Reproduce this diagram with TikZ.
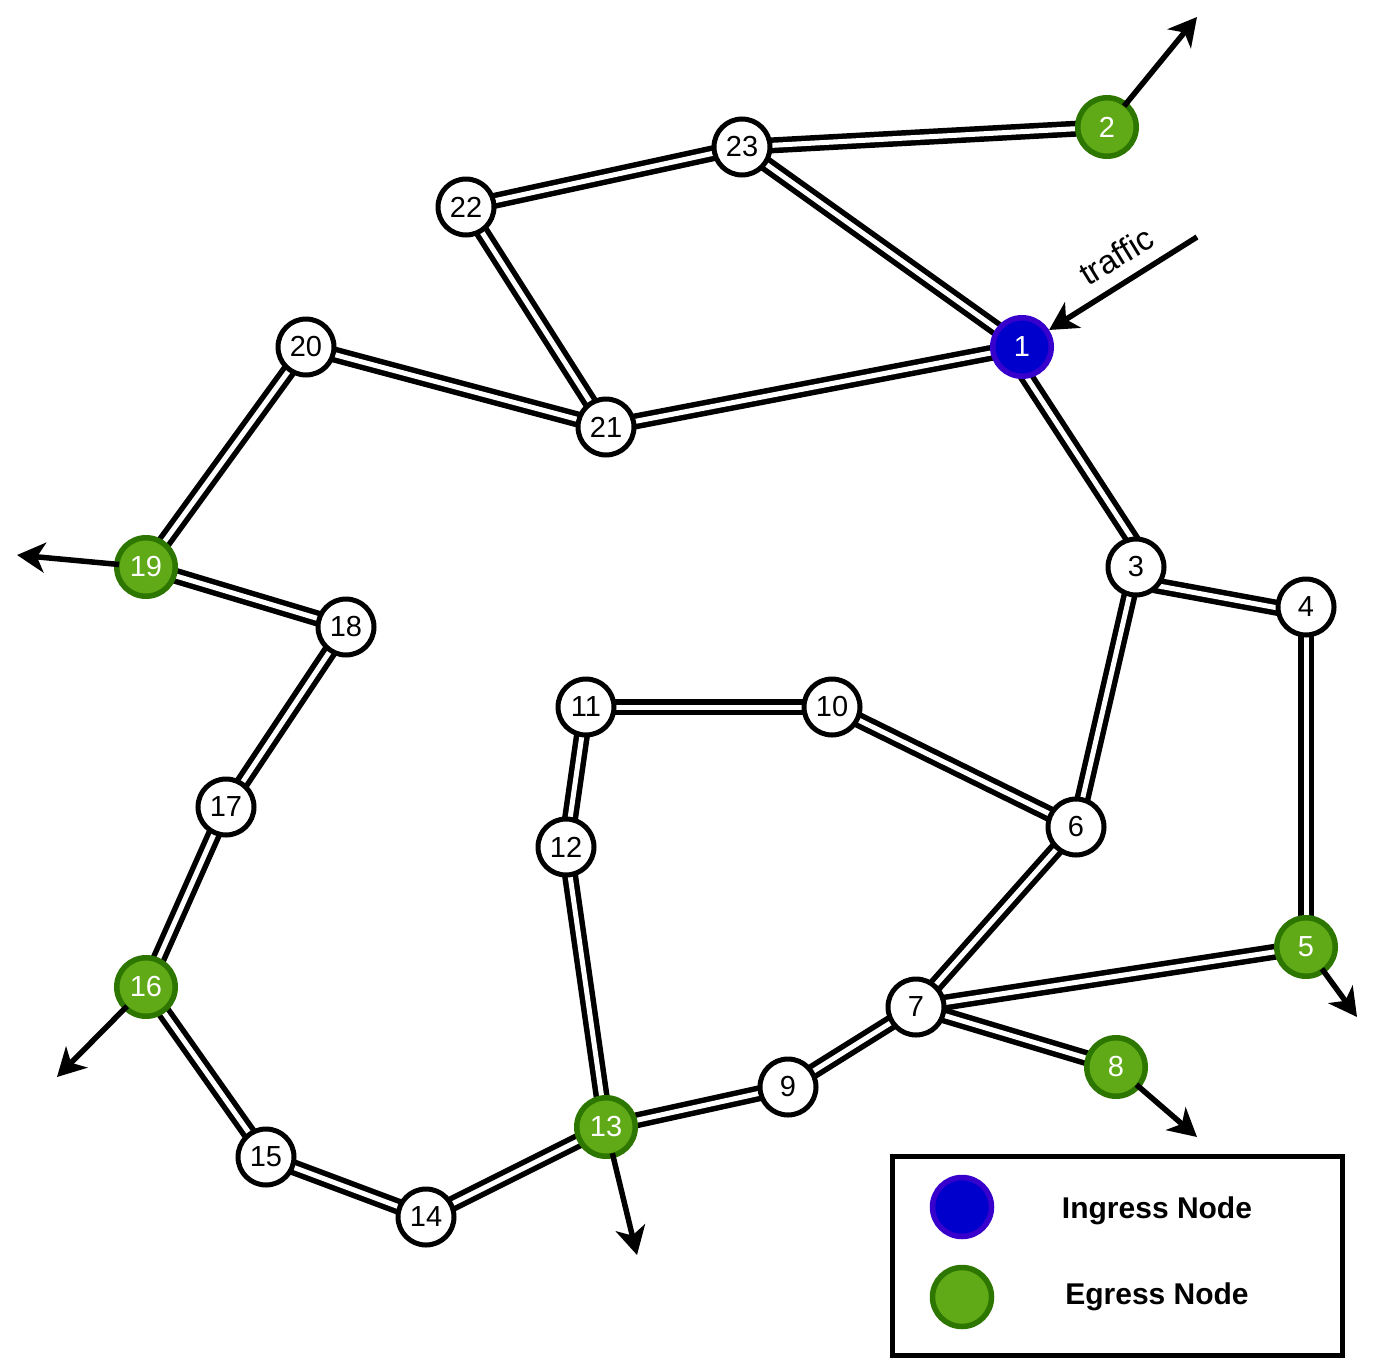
\documentclass[tikz,border=0pt]{standalone}
\usepackage{fontspec}
\setmainfont{Liberation Sans}
\usetikzlibrary{arrows.meta}
\definecolor{egfill}{HTML}{60A917}
\definecolor{egline}{HTML}{2D7600}
\definecolor{infill}{HTML}{0000CC}
\definecolor{inline}{HTML}{3700CC}
\pgfdeclarelayer{bg}
\pgfsetlayers{bg,main}
\begin{document}
\begin{tikzpicture}[x=1pt,y=-1pt,
  plain/.style={circle,draw=black,fill=white,line width=5pt,minimum size=56pt,inner sep=0pt,font=\fontsize{29}{32}\selectfont},
  egress/.style={circle,draw=egline,fill=egfill,line width=5.5pt,minimum size=58.5pt,inner sep=0pt,text=white,font=\fontsize{29}{32}\selectfont},
  ingress/.style={circle,draw=inline,fill=infill,line width=5.5pt,minimum size=58.5pt,inner sep=0pt,text=white,font=\fontsize{29}{32}\selectfont},
  link/.style={draw=black,line width=5.5pt,double=white,double distance=5pt,shorten <=-6pt,shorten >=-6pt},
  outarrow/.style={line width=5.5pt,shorten <=-5pt,-{Stealth[length=28pt,width=30pt,inset=8pt]}},
  legtext/.style={anchor=base,font=\fontsize{30}{36}\selectfont\bfseries}
]
\useasboundingbox (0,0) rectangle (1376,1360);
% nodes
\node[ingress] (n1) at (1022,347) {1};
\node[egress] (n2) at (1107,127) {2};
\node[plain] (n3) at (1136,567) {3};
\node[plain] (n4) at (1306,607) {4};
\node[egress] (n5) at (1306,947) {5};
\node[plain] (n6) at (1076,827) {6};
\node[plain] (n7) at (916,1007) {7};
\node[egress] (n8) at (1116,1067) {8};
\node[plain] (n9) at (788,1087) {9};
\node[plain] (n10) at (832,707) {10};
\node[plain] (n11) at (586,707) {11};
\node[plain] (n12) at (566,847) {12};
\node[egress] (n13) at (606,1127) {13};
\node[plain] (n14) at (426,1217) {14};
\node[plain] (n15) at (266,1157) {15};
\node[egress] (n16) at (146,987) {16};
\node[plain] (n17) at (226,807) {17};
\node[plain] (n18) at (346,627) {18};
\node[egress] (n19) at (146,567) {19};
\node[plain] (n20) at (306,347) {20};
\node[plain] (n21) at (606,427) {21};
\node[plain] (n22) at (466,207) {22};
\node[plain] (n23) at (742,147) {23};
% free ends
\coordinate (o2) at (1197,17);
\coordinate (o19) at (17,555);
\coordinate (o16) at (57,1077);
\coordinate (o13) at (637,1255);
\coordinate (o8) at (1197,1137);
\coordinate (o5) at (1357,1017);
\coordinate (tin) at (1197,237);
\begin{pgfonlayer}{bg}
\draw[link] (n23) -- (n2);
\draw[link] (n22) -- (n23);
\draw[link] (n23) -- (n1);
\draw[link] (n22) -- (n21);
\draw[link] (n20) -- (n21);
\draw[link] (n21) -- (n1);
\draw[link] (n1.-80) -- (n3.100);
\draw[link] (n3) -- (n6);
\draw[link] (n3.-39) -- (n4.181);
\draw[link] (n4) -- (n5);
\draw[link] (n5) -- (n7);
\draw[link] (n6) -- (n7);
\draw[link] (n7) -- (n8);
\draw[link] (n7) -- (n9);
\draw[link] (n9) -- (n13);
\draw[link] (n13) -- (n12);
\draw[link] (n12) -- (n11);
\draw[link] (n11) -- (n10);
\draw[link] (n10) -- (n6);
\draw[link] (n13) -- (n14);
\draw[link] (n14) -- (n15);
\draw[link] (n15) -- (n16);
\draw[link] (n16) -- (n17);
\draw[link] (n17) -- (n18);
\draw[link] (n18) -- (n19);
\draw[link] (n19) -- (n20);
\end{pgfonlayer}
% outgoing arrows
\draw[outarrow] (n2) -- (o2);
\draw[outarrow] (n19) -- (o19);
\draw[outarrow] (n16) -- (o16);
\draw[outarrow] (n13) -- (o13);
\draw[outarrow] (n8) -- (o8);
\draw[outarrow] (n5) -- (o5);
\draw[line width=5.5pt,-{Stealth[length=28pt,width=30pt,inset=8pt]}] (tin) -- (n1);
\node[rotate=31.5,font=\fontsize{33}{36}\selectfont] (traffic) at (1116,256) {traffic};
% legend
\draw[line width=5pt] (892.5,1156.5) rectangle (1342.5,1355.5);
\node[ingress,minimum size=59pt] (legin) at (962,1207) {};
\node[egress,minimum size=59pt] (legeg) at (962,1297) {};
\node[legtext] (legintext) at (1157,1218) {Ingress Node};
\node[legtext] (legegtext) at (1157,1304) {Egress Node};
\end{tikzpicture}
\end{document}
